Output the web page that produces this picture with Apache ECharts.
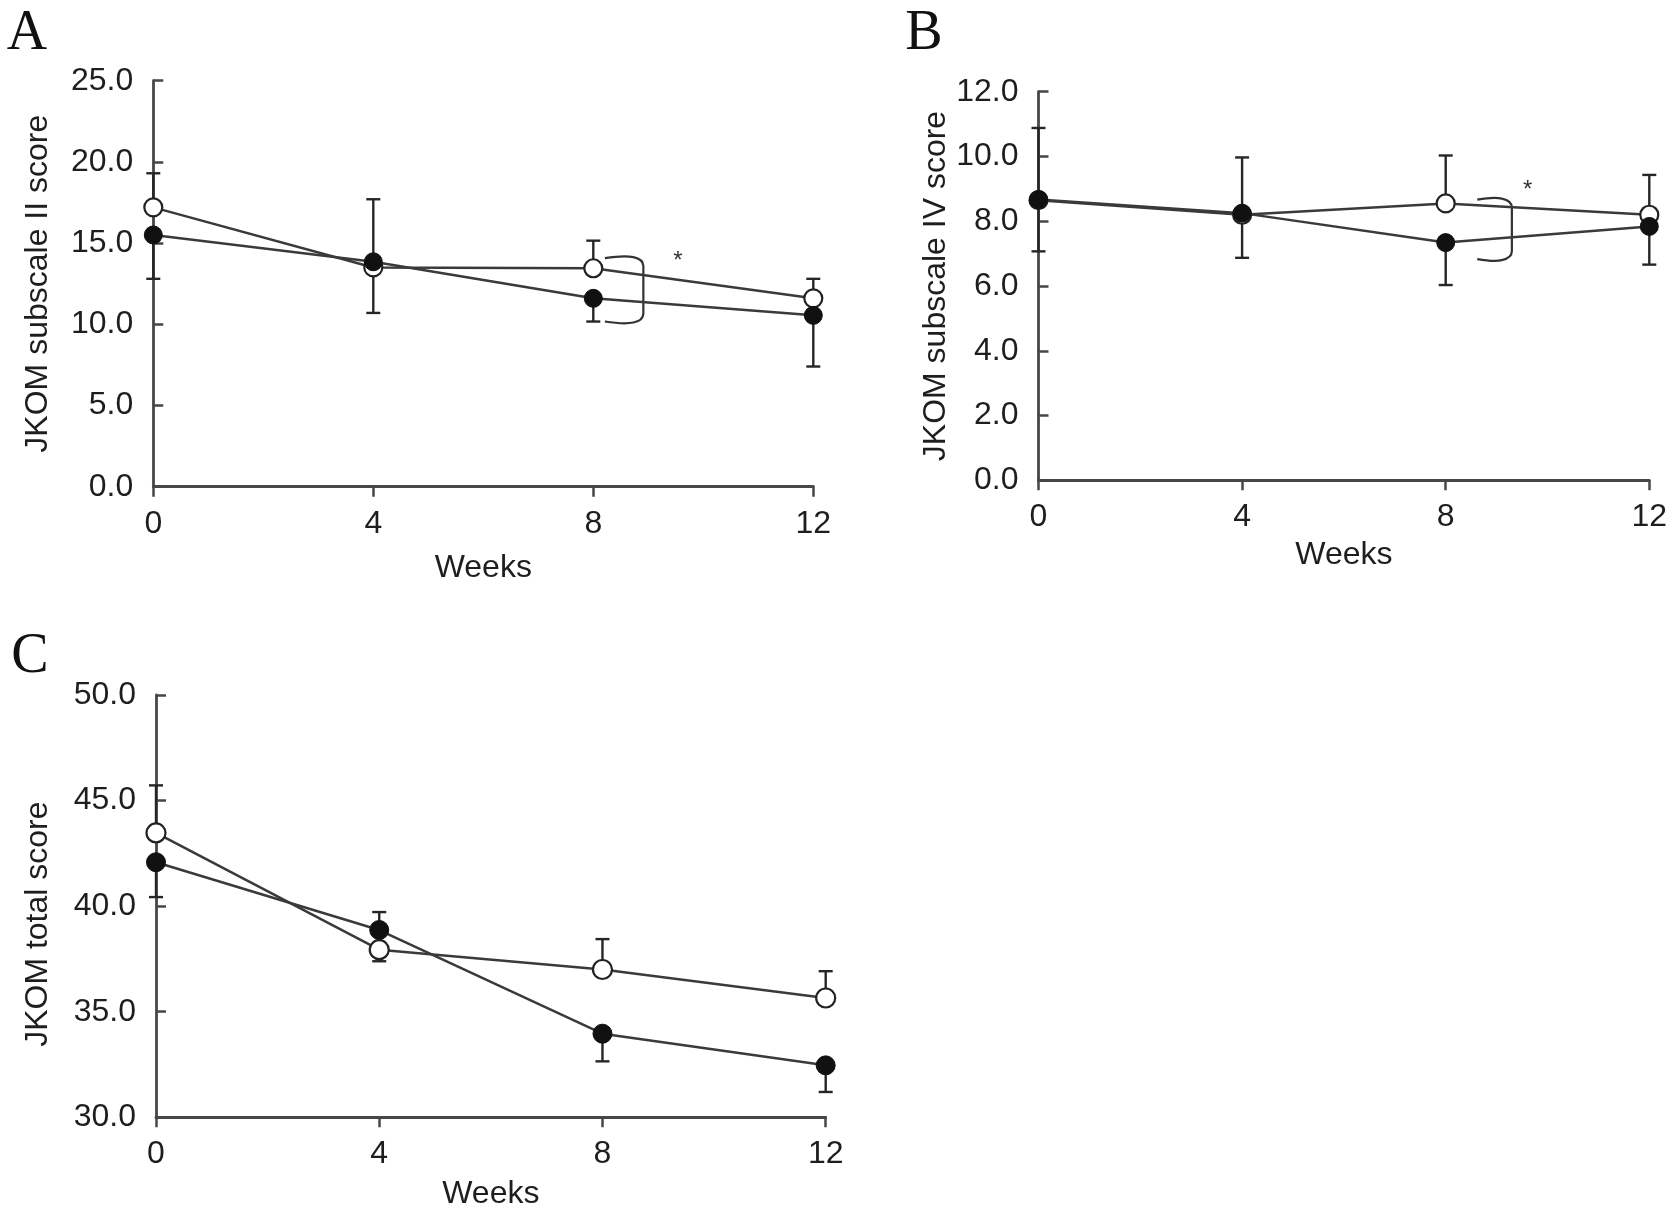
<!DOCTYPE html>
<html>
<head>
<meta charset="utf-8">
<script src="https://cdn.jsdelivr.net/npm/echarts@6/dist/echarts.min.js"></script>
<style>
html,body{margin:0;padding:0;background:#fff;}
#chart{width:1679px;height:1221px;}
</style>
</head>
<body>
<div id="chart"></div>
<script>
// ---------- data ----------
const weeks = [0, 4, 8, 12];
const weekTicks = ['0', '4', '8', '12'];

// Panel A: JKOM subscale II score
const aOpen = [17.2, 13.5, 13.45, 11.6];
const aOpenErrEnd = [19.3, 17.7, 15.15, 12.8];
const aFilled = [15.5, 13.85, 11.6, 10.55];
const aFilledErrEnd = [12.8, 10.7, 10.17, 7.4];
const aBracket = [8.21, 8.91, 14.2, 10.05];   // x0, x1, yTop, yBottom
const aStar = [9.54, 13.87];

// Panel B: JKOM subscale IV score
const bOpen = [8.65, 8.2, 8.55, 8.2];
const bOpenErrEnd = [10.88, 9.97, 10.03, 9.43];
const bFilled = [8.67, 8.25, 7.34, 7.84];
const bFilledErrEnd = [7.07, 6.87, 6.03, 6.66];
const bBracket = [8.62, 9.3, 8.73, 6.77];
const bStar = [9.61, 8.96];

// Panel C: JKOM total score
const cOpen = [43.47, 37.94, 37.0, 35.65];
const cOpenErrEnd = [45.72, 37.39, 38.44, 36.92];
const cFilled = [42.08, 38.87, 33.96, 32.46];
const cFilledErrEnd = [40.43, 39.72, 32.65, 31.2];

// axis ranges / names
const aY = {min: 0, max: 25, interval: 5, name: 'JKOM subscale II score'};
const bY = {min: 0, max: 12, interval: 2, name: 'JKOM subscale IV score'};
const cY = {min: 30, max: 50, interval: 5, name: 'JKOM total score'};
const xName = 'Weeks';
const panelLetters = ['A', 'B', 'C'];

// ---------- styles ----------
const FONT = 'Liberation Sans, Arial, sans-serif';
const AXIS_COLOR = '#474747';
const TEXT_COLOR = '#1e1e1e';
const LINE_COLOR = '#3a3a3a';

const grids = [
  {left: 153.3, top: 80.7, width: 660, height: 406},
  {left: 1038.5, top: 91.7, width: 610.8, height: 388.6},
  {left: 156, top: 695, width: 669.7, height: 422.3}
];
const yNameGap = [99, 78, 102];
const yNamePad = [[0, 0, 0, 0], [0, 0, 0, 0], [0, 36, 0, 0]];
const xNameGap = [65, 59, 61];
const markerSize = [18, 18, 19];

function xAxisFor(i) {
  return {
    type: 'value', gridIndex: i, min: 0, max: 12, interval: 4,
    name: xName, nameLocation: 'middle', nameGap: xNameGap[i],
    nameTextStyle: {fontFamily: FONT, fontSize: 32, color: TEXT_COLOR},
    axisLine: {show: true, onZero: false, lineStyle: {color: AXIS_COLOR, width: 2.8}},
    axisTick: {show: true, inside: false, length: 10, lineStyle: {color: AXIS_COLOR, width: 2.5}},
    axisLabel: {show: true, margin: 21, fontFamily: FONT, fontSize: 32, color: TEXT_COLOR,
      showMinLabel: true, showMaxLabel: true,
      formatter: v => weekTicks[weeks.indexOf(v)] ?? String(v)},
    splitLine: {show: false}
  };
}
function yAxisFor(i, cfg) {
  return {
    type: 'value', gridIndex: i, min: cfg.min, max: cfg.max, interval: cfg.interval,
    name: cfg.name, nameLocation: 'middle', nameGap: yNameGap[i], nameRotate: 90,
    nameTextStyle: {fontFamily: FONT, fontSize: 32, color: TEXT_COLOR, padding: yNamePad[i]},
    axisLine: {show: true, onZero: false, lineStyle: {color: AXIS_COLOR, width: 2.8}},
    axisTick: {show: true, inside: true, length: 10, lineStyle: {color: AXIS_COLOR, width: 2.5}},
    axisLabel: {show: true, margin: 20, fontFamily: FONT, fontSize: 32, color: TEXT_COLOR,
      showMinLabel: true, showMaxLabel: true, formatter: v => v.toFixed(1)},
    splitLine: {show: false}
  };
}

function pairs(vals) { return weeks.map((w, k) => [w, vals[k]]); }
function errData(vals, ends) { return weeks.map((w, k) => [w, vals[k], ends[k]]); }

function errorSeries(i, vals, ends) {
  return {
    type: 'custom', xAxisIndex: i, yAxisIndex: i, z: 2, silent: true,
    data: errData(vals, ends),
    encode: {x: 0, y: [1, 2]},
    renderItem: function (params, api) {
      const x = api.value(0), m = api.value(1), e = api.value(2);
      const p1 = api.coord([x, m]);
      const p2 = api.coord([x, e]);
      const w = 7;
      const st = {stroke: '#262626', lineWidth: 2.4, fill: null};
      return {type: 'group', children: [
        {type: 'line', shape: {x1: p1[0], y1: p1[1], x2: p2[0], y2: p2[1]}, style: st},
        {type: 'line', shape: {x1: p2[0] - w, y1: p2[1], x2: p2[0] + w, y2: p2[1]}, style: st}
      ]};
    }
  };
}

function lineSeries(i, vals, open) {
  return {
    type: 'line', xAxisIndex: i, yAxisIndex: i, z: 3, silent: true,
    data: pairs(vals),
    symbol: 'circle', symbolSize: markerSize[i], showAllSymbol: true,
    lineStyle: {color: LINE_COLOR, width: 2.5},
    itemStyle: open ? {color: '#fff', borderColor: '#222', borderWidth: 2.2}
                    : {color: '#111', borderColor: '#111', borderWidth: 1},
    emphasis: {disabled: true},
    animation: false
  };
}

function bracketSeries(i, br) {
  return {
    type: 'custom', xAxisIndex: i, yAxisIndex: i, z: 2, silent: true,
    data: [br],
    encode: {x: [0, 1], y: [2, 3]},
    renderItem: function (params, api) {
      const pT = api.coord([api.value(0), api.value(2)]);
      const pB = api.coord([api.value(1), api.value(3)]);
      const x0 = pT[0], x1 = pB[0], yt = pT[1], yb = pB[1];
      const r = Math.min(10, (x1 - x0) * 0.5);
      const d = 'M' + x0 + ' ' + (yt + 2) +
        ' Q' + (x0 + (x1 - x0) * 0.5) + ' ' + (yt - 1) + ' ' + (x1 - r) + ' ' + (yt + 1) +
        ' Q' + x1 + ' ' + (yt + 3) + ' ' + x1 + ' ' + (yt + r) +
        ' L' + x1 + ' ' + (yb - r) +
        ' Q' + x1 + ' ' + (yb - 3) + ' ' + (x1 - r) + ' ' + (yb - 1) +
        ' Q' + (x0 + (x1 - x0) * 0.5) + ' ' + (yb + 1) + ' ' + x0 + ' ' + (yb - 2);
      return {type: 'path', shape: {pathData: d}, style: {stroke: '#333', lineWidth: 2.2, fill: 'none'}};
    }
  };
}

function starSeries(i, st) {
  return {
    type: 'custom', xAxisIndex: i, yAxisIndex: i, z: 4, silent: true,
    data: [st],
    encode: {x: 0, y: 1},
    renderItem: function (params, api) {
      const p = api.coord([api.value(0), api.value(1)]);
      return {type: 'text', x: p[0], y: p[1],
        style: {text: '*', fontFamily: FONT, fontSize: 24, fill: '#333', align: 'center', verticalAlign: 'middle'}};
    }
  };
}

const series = [
  errorSeries(0, aOpen, aOpenErrEnd), errorSeries(0, aFilled, aFilledErrEnd),
  lineSeries(0, aOpen, true), lineSeries(0, aFilled, false),
  bracketSeries(0, aBracket), starSeries(0, aStar),
  errorSeries(1, bOpen, bOpenErrEnd), errorSeries(1, bFilled, bFilledErrEnd),
  lineSeries(1, bOpen, true), lineSeries(1, bFilled, false),
  bracketSeries(1, bBracket), starSeries(1, bStar),
  errorSeries(2, cOpen, cOpenErrEnd), errorSeries(2, cFilled, cFilledErrEnd),
  lineSeries(2, cOpen, true), lineSeries(2, cFilled, false)
];

const letterPos = [[27, 34], [924, 34], [30, 657]];

const option = {
  backgroundColor: '#fff',
  animation: false,
  grid: grids.map(g => Object.assign({containLabel: false, outerBoundsMode: 'none'}, g)),
  xAxis: [0, 1, 2].map(xAxisFor),
  yAxis: [yAxisFor(0, aY), yAxisFor(1, bY), yAxisFor(2, cY)],
  graphic: panelLetters.map((t, k) => ({
    type: 'text', x: letterPos[k][0], y: letterPos[k][1],
    style: {text: t, fontFamily: 'Liberation Serif, Times New Roman, serif', fontSize: 56,
      fill: '#111', align: 'center', verticalAlign: 'middle'}
  })),
  series: series
};

const chart = echarts.init(document.getElementById('chart'), null, {renderer: 'canvas'});
chart.setOption(option);
</script>
</body>
</html>
